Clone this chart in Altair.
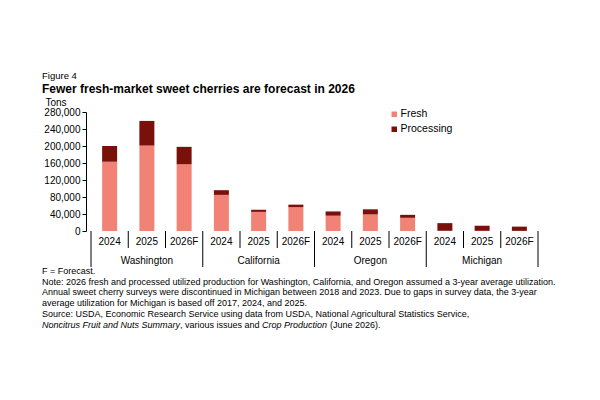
import altair as alt
import pandas as pd

# ---- data ----
states = ["Washington", "California", "Oregon", "Michigan"]
years = ["2024", "2025", "2026F"]
fresh = [163000, 201000, 157000, 85000, 45000, 56000, 36000, 39000, 31000, 500, 400, 300]
processing = [37000, 58000, 41000, 11000, 5000, 6000, 10000, 12000, 7000, 18000, 12000, 10000]
series = ["Fresh", "Processing"]
colors = ["#F28276", "#7A100A"]
y_ticks = [0, 40000, 80000, 120000, 160000, 200000, 240000, 280000]

title_text = "Figure 4"
subtitle_text = "Fewer fresh-market sweet cherries are forecast in 2026"
notes = [
    "F = Forecast.",
    "Note: 2026 fresh and processed utilized production for Washington, California, and Oregon assumed a 3-year average utilization.",
    "Annual sweet cherry surveys were discontinued in Michigan between 2018 and 2023. Due to gaps in survey data, the 3-year",
    "average utilization for Michigan is based off 2017, 2024, and 2025.",
    "Source: USDA, Economic Research Service using data from USDA, National Agricultural Statistics Service,",
]
last_line = [
    ("Noncitrus Fruit and Nuts Summary", "italic"),
    (", various issues and", "normal"),
    ("Crop Production", "italic"),
    ("(June 2026).", "normal"),
]

# ---- tables ----
rows = []
wide = []
for i in range(len(fresh)):
    st = states[i // 3]
    yr = years[i % 3]
    wide.append({"pos": i + 0.5, "state": st, "year": yr})
    rows.append({"pos": i + 0.5, "state": st, "year": yr, "series": "Fresh", "ord": 0, "value": fresh[i]})
    rows.append({"pos": i + 0.5, "state": st, "year": yr, "series": "Processing", "ord": 1, "value": processing[i]})
long_df = pd.DataFrame(rows)
wide_df = pd.DataFrame(wide)
n = len(fresh)
state_df = pd.DataFrame({"state": states, "center": [3 * k + 1.5 for k in range(len(states))]})
year_sep = pd.DataFrame({"p": [k for k in range(1, n) if k % 3 != 0]})
group_sep = pd.DataFrame({"p": [k for k in range(0, n + 1) if k % 3 == 0]})
one = pd.DataFrame({"a": [0]})

W, H = 457, 119
FONT = "Liberation Sans"
xs = alt.Scale(domain=[0, n], nice=False, zero=False)

bars = alt.Chart(long_df).mark_bar(size=15).encode(
    x=alt.X("pos:Q", scale=xs,
            axis=alt.Axis(labels=False, ticks=False, grid=False, title=None,
                          domainColor="black", domainWidth=1)),
    y=alt.Y("value:Q", stack="zero",
            scale=alt.Scale(domain=[0, 280000], nice=False),
            axis=alt.Axis(values=y_ticks, format=",d", grid=False, title="Tons",
                          titleAngle=0, titleAlign="left", titleBaseline="middle",
                          titleX=-41, titleY=-10, titleFontWeight="normal",
                          titleFontSize=10, titleFont=FONT, titleColor="black",
                          labelFontSize=10, labelFont=FONT, labelColor="black",
                          tickSize=4, tickColor="black", domainColor="black",
                          labelPadding=2)),
    color=alt.Color("series:N", scale=alt.Scale(domain=series, range=colors),
                    legend=alt.Legend(title=None, orient="none", legendX=303, legendY=-3,
                                      symbolType="square", symbolSize=30,
                                      symbolStrokeWidth=0, labelFontSize=10.5,
                                      labelFont=FONT, labelColor="black",
                                      rowPadding=4, labelOffset=1)),
    order=alt.Order("ord:Q"),
)

ysep = alt.Chart(year_sep).mark_rule(color="black", strokeWidth=1).encode(
    x=alt.X("p:Q", scale=xs, axis=None), y=alt.value(H), y2=alt.value(H + 17))
gsep = alt.Chart(group_sep).mark_rule(color="black", strokeWidth=1).encode(
    x=alt.X("p:Q", scale=xs, axis=None), y=alt.value(H), y2=alt.value(H + 36))

year_txt = alt.Chart(wide_df).mark_text(fontSize=10, font=FONT, color="black", baseline="middle").encode(
    x=alt.X("pos:Q", scale=xs, axis=None), y=alt.value(H + 11), text="year:N")
state_txt = alt.Chart(state_df).mark_text(fontSize=10, font=FONT, color="black", baseline="middle").encode(
    x=alt.X("center:Q", scale=xs, axis=None), y=alt.value(H + 30), text="state:N")

layers = [bars, ysep, gsep, year_txt, state_txt]
LX = -44
y0 = 158.7
LH = 10.8
for k, line in enumerate(notes):
    layers.append(alt.Chart(one).mark_text(fontSize=9, font=FONT, color="black", align="left",
                                           baseline="middle", text=line).encode(
        x=alt.value(LX), y=alt.value(y0 + k * LH)))
offs = [0, 138, 220, 288]
for (seg, style), dx in zip(last_line, offs):
    layers.append(alt.Chart(one).mark_text(fontSize=9, font=FONT, color="black", align="left",
                                           baseline="middle", fontStyle=style, text=seg).encode(
        x=alt.value(LX + dx), y=alt.value(y0 + len(notes) * LH)))

chart = alt.layer(*layers).properties(
    width=W, height=H,
    title=alt.TitleParams(text=title_text, subtitle=subtitle_text, anchor="start", frame="bounds",
                          font=FONT, fontSize=9.5, fontWeight="normal", color="black",
                          subtitleFont=FONT, subtitleFontSize=12, subtitleFontWeight="bold",
                          subtitleColor="black", subtitlePadding=4, offset=2),
    autosize=alt.AutoSizeParams(type="none"),
    padding={"left": 78, "top": 104, "right": 49, "bottom": 161},
).configure(background="white").configure_view(strokeWidth=0, stroke="transparent")

chart.save("out.html", embed_options={"renderer": "svg", "actions": False})
